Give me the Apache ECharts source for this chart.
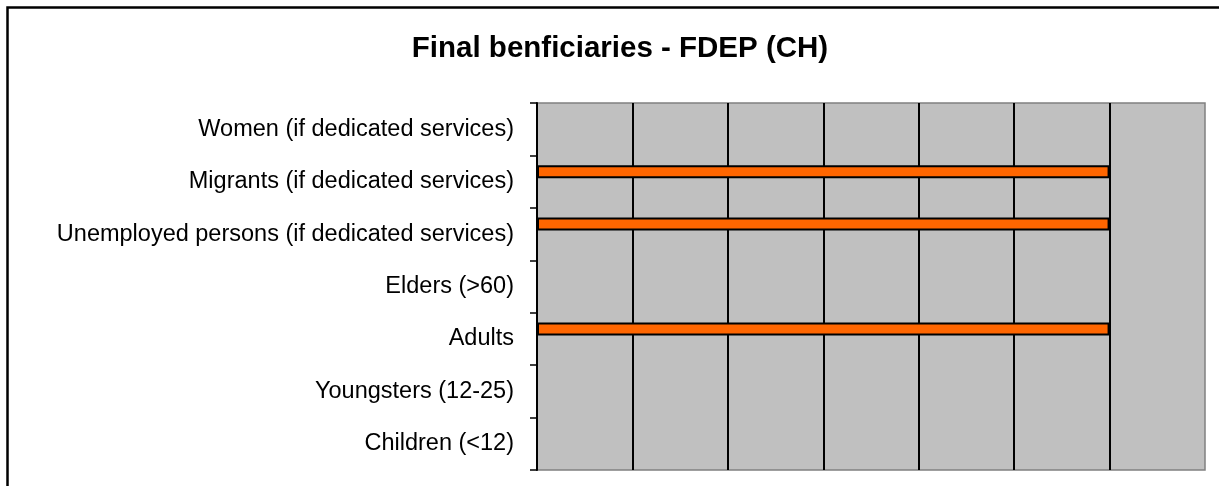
<!DOCTYPE html>
<html>
<head>
<meta charset="utf-8">
<script src="https://cdn.jsdelivr.net/npm/echarts@6/dist/echarts.min.js"></script>
<style>
  html, body { margin: 0; padding: 0; background: #fff; }
  #chart { width: 1219px; height: 486px; }
</style>
</head>
<body>
<div id="chart"></div>
<script>
// categories bottom -> top, same as the excel axis
var categories = ['Children (<12)', 'Youngsters (12-25)', 'Adults', 'Elders (>60)',
    'Unemployed persons (if dedicated services)', 'Migrants (if dedicated services)', 'Women (if dedicated services)'];
var fdepValues = [0, 0, 6, 0, 6, 6, 0];
var otherValues = [null, null, null, null, null, null, null]; // empty series, keeps the bar offset
var xMin = 0, xMax = 7, xStep = 1;

var chart = echarts.init(document.getElementById('chart'));
chart.setOption({
    animation: false,
    textStyle: { fontFamily: 'Liberation Sans, Arial, sans-serif' },
    title: {
        text: 'Final benficiaries - FDEP (CH)',
        left: 615, top: 29, textAlign: 'center',
        textStyle: { fontSize: 29.5, fontWeight: 'bold', color: '#000', fontFamily: 'Liberation Sans, Arial, sans-serif' }
    },
    graphic: [{
        type: 'rect', left: 5, top: 5, z: -10,
        shape: { width: 1240, height: 520 },
        style: { fill: 'none', stroke: '#000', lineWidth: 2.5 }
    }],
    grid: {
        left: 537, top: 103, right: 14, bottom: 16,
        show: true, backgroundColor: '#c0c0c0', borderColor: '#808080', borderWidth: 1.5
    },
    xAxis: {
        type: 'value', min: xMin, max: xMax, interval: xStep,
        axisLabel: { show: false }, axisLine: { show: false }, axisTick: { show: false },
        splitLine: { show: true, showMinLine: false, showMaxLine: false, lineStyle: { color: '#000', width: 2 } }
    },
    yAxis: {
        type: 'category', data: categories,
        axisLine: { show: true, lineStyle: { color: '#000', width: 2 } },
        axisTick: { show: true, length: 7, lineStyle: { color: '#000', width: 1.5 } },
        axisLabel: { color: '#000', fontSize: 23.5, margin: 23 }
    },
    series: [{
        name: 'FDEP', type: 'bar', data: fdepValues,
        barWidth: 13, barGap: 0,
        itemStyle: { color: '#ff6600', borderColor: '#000', borderWidth: 2 }
    }, {
        name: 'other', type: 'bar', data: otherValues,
        barWidth: 20, barGap: 0,
        itemStyle: { color: '#9999ff' }
    }]
});
</script>
</body>
</html>
